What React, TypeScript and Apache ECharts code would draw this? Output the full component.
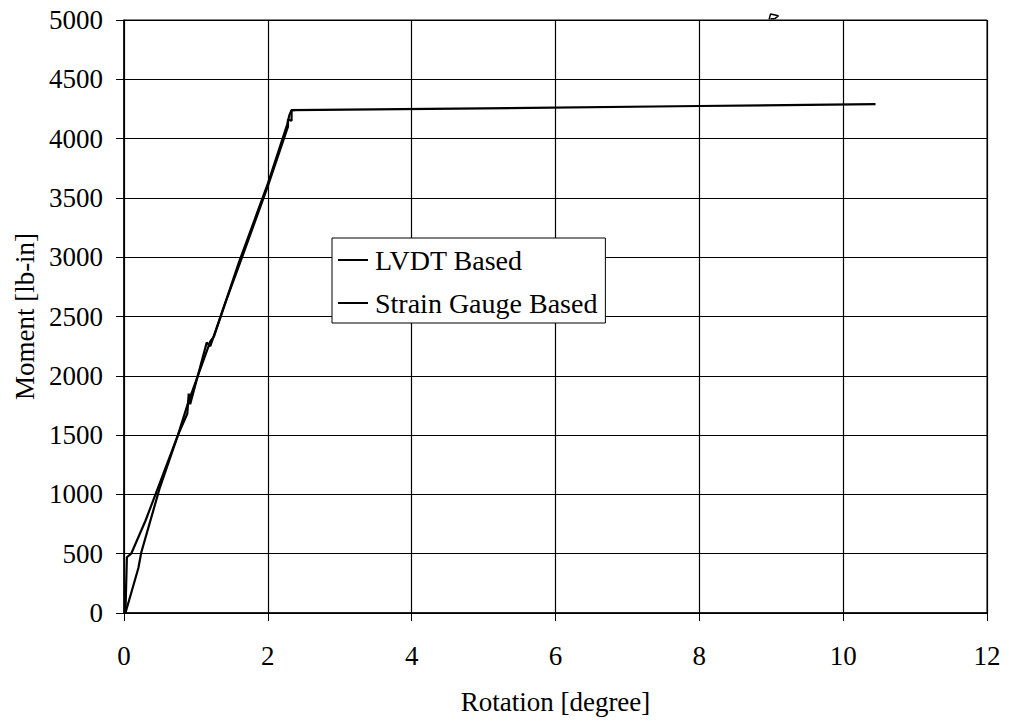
import React, { useEffect, useRef } from "react";
import * as echarts from "echarts";

const xTicks = [0, 2, 4, 6, 8, 10, 12];
const yTicks = [0, 500, 1000, 1500, 2000, 2500, 3000, 3500, 4000, 4500, 5000];

const lvdtRotation = [0.02, 0.04, 0.1, 0.3, 0.5, 0.75, 0.9, 0.95, 1.2, 1.25, 1.6, 2.0, 2.27, 2.3, 2.33, 5.0, 8.0, 10.45];
const lvdtMoment = [0, 470, 500, 780, 1100, 1500, 1790, 1870, 2290, 2330, 2960, 3620, 4120, 4200, 4240, 4255, 4275, 4290];

const gaugeRotation = [0.02, 0.2, 0.24, 0.5, 0.75, 0.88, 0.9, 0.92, 1.15, 1.2, 1.4, 1.66, 2.0, 2.28, 2.28, 2.33, 2.33, 2.38];
const gaugeMoment = [0, 380, 510, 1060, 1500, 1680, 1850, 1760, 2280, 2250, 2600, 3030, 3600, 4100, 4160, 4150, 4240, 4240];

const markRotation = [8.97, 8.99, 9.1, 9.05, 8.99];
const markMoment = [5005, 5050, 5035, 5012, 5010];

const zip = (a: number[], b: number[]) => a.map((v, i) => [v, b[i]]);

const FONT = "'Liberation Serif', 'Times New Roman', serif";
const FS = 27;

export default function App() {
  const ref = useRef<HTMLDivElement>(null);
  useEffect(() => {
    if (!ref.current) return;
    const chart = echarts.init(ref.current, undefined, { renderer: "svg" });
    chart.setOption({
      animation: false,
      backgroundColor: "#fff",
      grid: { left: 124, right: 22, top: 20, bottom: 115, show: true, borderColor: "#000", borderWidth: 1 },
      legend: {
        left: 332,
        top: 238,
        orient: "vertical",
        backgroundColor: "#fff",
        borderColor: "#000",
        borderWidth: 1,
        borderRadius: 0,
        padding: [8, 8, 6, 6],
        itemGap: 15,
        itemWidth: 30,
        itemHeight: 2,
        icon: "rect",
        data: ["LVDT Based", "Strain Gauge Based"],
        textStyle: { fontFamily: FONT, fontSize: 28, color: "#000", padding: [0, 0, 0, 2] },
      },
      xAxis: {
        type: "value",
        min: 0,
        max: 12,
        interval: 2,
        name: "Rotation [degree]",
        nameLocation: "middle",
        nameGap: 75,
        nameTextStyle: { fontFamily: FONT, fontSize: FS, color: "#000" },
        axisLine: { show: true, lineStyle: { color: "#000", width: 1.5 } },
        axisTick: { show: true, length: 8, lineStyle: { color: "#000" } },
        splitLine: { show: true, lineStyle: { color: "#000", width: 1.2 } },
        axisLabel: { fontFamily: FONT, fontSize: FS, color: "#000", margin: 29, formatter: (v: number) => (xTicks.includes(v) ? String(v) : "") },
      },
      yAxis: {
        type: "value",
        min: 0,
        max: 5000,
        interval: 500,
        name: "Moment [lb-in]",
        nameLocation: "middle",
        nameGap: 86,
        nameTextStyle: { fontFamily: FONT, fontSize: FS, color: "#000" },
        axisLine: { show: true, lineStyle: { color: "#000", width: 1.5 } },
        axisTick: { show: true, length: 8, lineStyle: { color: "#000" } },
        splitLine: { show: true, lineStyle: { color: "#000", width: 1.2 } },
        axisLabel: { fontFamily: FONT, fontSize: FS, color: "#000", margin: 21, formatter: (v: number) => (yTicks.includes(v) ? String(v) : "") },
      },
      series: [
        {
          name: "LVDT Based",
          type: "line",
          data: zip(lvdtRotation, lvdtMoment),
          showSymbol: false,
          symbol: "none",
          color: "#000",
          lineStyle: { color: "#000", width: 2.2 },
        },
        {
          name: "Strain Gauge Based",
          type: "line",
          data: zip(gaugeRotation, gaugeMoment),
          showSymbol: false,
          symbol: "none",
          color: "#000",
          lineStyle: { color: "#000", width: 2.2 },
        },
        {
          name: "mark",
          type: "line",
          data: zip(markRotation, markMoment),
          showSymbol: false,
          symbol: "none",
          clip: false,
          color: "#000",
          lineStyle: { color: "#000", width: 1.5 },
        },
      ],
    });
    return () => chart.dispose();
  }, []);
  return <div ref={ref} style={{ position: "fixed", left: 0, top: 0, width: 1009, height: 728 }} />;
}
